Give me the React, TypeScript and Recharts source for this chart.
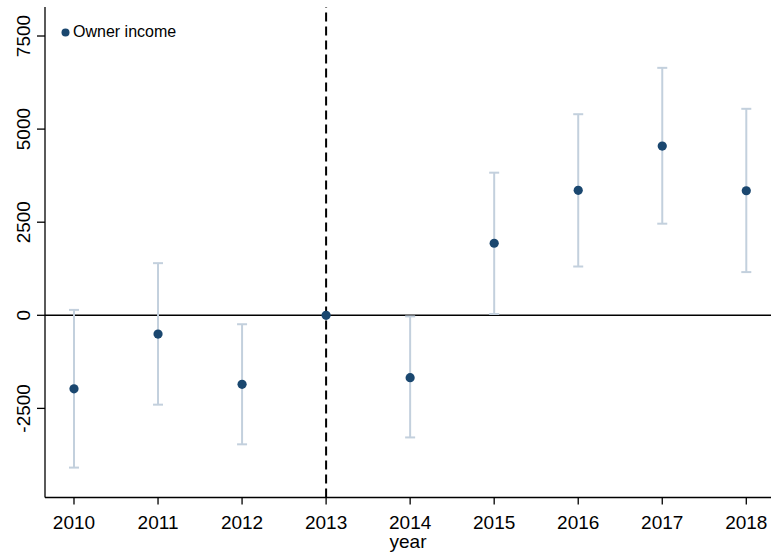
import React from "react";
import {
  ComposedChart,
  Scatter,
  ErrorBar,
  XAxis,
  YAxis,
  ReferenceLine,
} from "recharts";

const years = [2010, 2011, 2012, 2013, 2014, 2015, 2016, 2017, 2018];
const estimates = [-1975, -505, -1855, 0, -1675, 1935, 3355, 4545, 3345];
const ciLow = [-4090, -2400, -3465, 0, -3280, 35, 1310, 2460, 1160];
const ciHigh = [145, 1400, -240, 0, -30, 3830, 5400, 6645, 5545];

const yTicks = [-2500, 0, 2500, 5000, 7500];
const seriesName = "Owner income";

const NAVY = "#1a476f";
const CI_COLOR = "#c3d0dd";
const FONT = "'Liberation Sans', Arial, sans-serif";

const points = years.map((year, i) => ({
  year,
  est: estimates[i],
  err: [estimates[i] - ciLow[i], ciHigh[i] - estimates[i]],
}));
// the base year has no interval
const ciPoints = points.filter((_, i) => ciLow[i] !== ciHigh[i]);

const RotatedTick = (props: any) => {
  const { x, y, payload } = props;
  return (
    <text
      x={x}
      y={y}
      transform={`rotate(-90, ${x}, ${y})`}
      textAnchor="middle"
      fontSize={19}
      fontFamily={FONT}
      fill="#000"
    >
      {payload.value}
    </text>
  );
};

const Dot = (props: any) => {
  const { cx, cy } = props;
  return <circle cx={cx} cy={cy} r={4.6} fill={NAVY} />;
};

export default function App() {
  return (
    <div style={{ position: "absolute", left: 0, top: 0, width: 771, height: 552 }}>
      <ComposedChart
        width={771}
        height={552}
        margin={{ top: 7, right: 0, bottom: 0, left: 0 }}
      >
        <XAxis
          type="number"
          dataKey="year"
          domain={[2009.655, 2018.294]}
          allowDataOverflow
          ticks={years}
          height={54.5}
          tickSize={7}
          tickMargin={11}
          stroke="#000"
          strokeWidth={1.3}
          tick={{ fontSize: 19, fontFamily: FONT, fill: "#000" }}
          label={{
            value: "year",
            position: "insideBottom",
            offset: 4,
            fontSize: 19,
            fontFamily: FONT,
            fill: "#000",
          }}
        />
        <YAxis
          type="number"
          domain={[-4893, 8279]}
          allowDataOverflow
          ticks={yTicks}
          width={45}
          tickSize={8}
          tickMargin={7}
          stroke="#000"
          strokeWidth={1.3}
          tick={<RotatedTick />}
        />
        <ReferenceLine y={0} stroke="#000" strokeWidth={1.6} />
        <ReferenceLine x={2013} stroke="#000" strokeWidth={2} strokeDasharray="9 5" />
        <Scatter
          data={ciPoints}
          dataKey="est"
          isAnimationActive={false}
          shape={() => <g />}
        >
          <ErrorBar
            dataKey="err"
            direction="y"
            width={5}
            stroke={CI_COLOR}
            strokeWidth={2}
            isAnimationActive={false}
          />
        </Scatter>
        <Scatter
          data={points}
          dataKey="est"
          name={seriesName}
          isAnimationActive={false}
          shape={<Dot />}
        />
      </ComposedChart>
      <div
        style={{
          position: "absolute",
          left: 61,
          top: 23,
          display: "flex",
          alignItems: "center",
          fontFamily: FONT,
          fontSize: 16,
          color: "#000",
        }}
      >
        <svg width={9} height={9} style={{ marginRight: 3 }}>
          <circle cx={4.5} cy={4.5} r={4} fill={NAVY} />
        </svg>
        <span>{seriesName}</span>
      </div>
    </div>
  );
}
